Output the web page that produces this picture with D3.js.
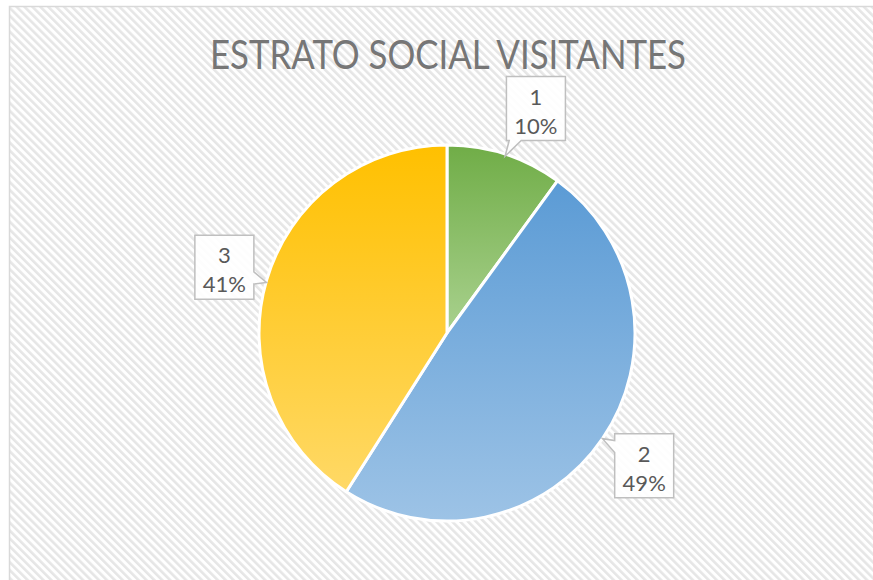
<!DOCTYPE html>
<html>
<head>
<meta charset="utf-8">
<script src="https://cdn.jsdelivr.net/npm/d3@7"></script>
<style>
  body { margin: 0; background: #fff; }
  svg { display: block; }
</style>
</head>
<body>
<svg id="chart" width="873" height="580"></svg>
<script>
// data
var categories = ["1", "2", "3"];
var values = [10, 49, 41];
var percentLabels = ["10%", "49%", "41%"];
var title = "ESTRATO SOCIAL VISITANTES";

// gradient colours per slice (top -> bottom)
var topColors = ["#70ad47", "#5b9bd5", "#ffc000"];
var bottomColors = ["#a9d18e", "#9dc3e6", "#ffd966"];

var svg = d3.select("#chart"),
    width = +svg.attr("width"),
    height = +svg.attr("height");

var defs = svg.append("defs");

// hatched background
var pat = defs.append("pattern")
    .attr("id", "hatch")
    .attr("patternUnits", "userSpaceOnUse")
    .attr("width", 5.6)
    .attr("height", 5.6)
    .attr("patternTransform", "rotate(-45)");
pat.append("rect").attr("width", 5.6).attr("height", 5.6).attr("fill", "#fff");
pat.append("rect").attr("width", 2.6).attr("height", 5.6).attr("fill", "#e6e6e6");

svg.append("rect")
    .attr("x", 9.5).attr("y", 6.5)
    .attr("width", width + 10).attr("height", height + 10)
    .attr("fill", "url(#hatch)")
    .attr("stroke", "#d9d9d9")
    .attr("stroke-width", 1.5);

// title
svg.append("text")
    .attr("x", 448)
    .attr("y", 69)
    .attr("text-anchor", "middle")
    .attr("textLength", 476)
    .attr("lengthAdjust", "spacingAndGlyphs")
    .attr("font-family", "Lato, 'Open Sans', sans-serif")
    .attr("font-size", 40)
    .attr("fill", "#767676")
    .text(title);

categories.forEach(function(c, i) {
  var g = defs.append("linearGradient")
      .attr("id", "grad" + i)
      .attr("x1", 0).attr("y1", 0).attr("x2", 0).attr("y2", 1);
  g.append("stop").attr("offset", "0%").attr("stop-color", topColors[i]);
  g.append("stop").attr("offset", "100%").attr("stop-color", bottomColors[i]);
});

var cx = 447, cy = 333, radius = 188, labelRadius = 236;
// small sideways shift of the label boxes, as the reference places them
var labelShift = [16, 2, 4];

var data = categories.map(function(c, i) {
  return {cat: c, value: values[i], pct: percentLabels[i], idx: i};
});

var pie = d3.pie().sort(null).value(function(d) { return d.value; });
var arc = d3.arc().innerRadius(0).outerRadius(radius);
var labelArc = d3.arc().innerRadius(labelRadius).outerRadius(labelRadius);
var tipArc = d3.arc().innerRadius(radius).outerRadius(radius);

var g = svg.append("g")
    .attr("transform", "translate(" + cx + "," + cy + ")");

var arcs = pie(data);

g.selectAll(".slice")
    .data(arcs)
  .enter().append("path")
    .attr("class", "slice")
    .attr("d", arc)
    .attr("fill", function(d) { return "url(#grad" + d.data.idx + ")"; })
    .attr("stroke", "#fff")
    .attr("stroke-width", 3)
    .attr("stroke-linejoin", "round");

function labelPos(d) {
  var p = labelArc.centroid(d);
  return [p[0] + labelShift[d.data.idx], p[1]];
}

// callout path: box with a pointer toward the tip
function calloutPath(lx, ly, w, h, tx, ty) {
  var x0 = lx - w / 2, x1 = lx + w / 2, y0 = ly - h / 2, y1 = ly + h / 2;
  var dx = tx - lx, dy = ty - ly;
  var tX = dx !== 0 ? (w / 2) / Math.abs(dx) : Infinity;
  var tY = dy !== 0 ? (h / 2) / Math.abs(dy) : Infinity;
  var half = 6;
  var pts;
  function clamp(v, a, b) { return Math.max(a, Math.min(b, v)); }
  if (tY < tX) {
    var ex = clamp(lx + dx * tY, x0 + half + 2, x1 - half - 2);
    if (dy < 0) {
      pts = [[x0, y0], [ex - half, y0], [tx, ty], [ex + half, y0], [x1, y0], [x1, y1], [x0, y1]];
    } else {
      pts = [[x0, y0], [x1, y0], [x1, y1], [ex + half, y1], [tx, ty], [ex - half, y1], [x0, y1]];
    }
  } else {
    var ey = clamp(ly + dy * tX, y0 + half + 2, y1 - half - 2);
    if (dx > 0) {
      pts = [[x0, y0], [x1, y0], [x1, ey - half], [tx, ty], [x1, ey + half], [x1, y1], [x0, y1]];
    } else {
      pts = [[x0, y0], [x1, y0], [x1, y1], [x0, y1], [x0, ey + half], [tx, ty], [x0, ey - half]];
    }
  }
  return "M" + pts.map(function(p) { return p[0] + "," + p[1]; }).join("L") + "Z";
}

var boxW = 59, boxH = 64;

var labels = g.selectAll(".label")
    .data(arcs)
  .enter().append("g")
    .attr("class", "label");

labels.append("path")
    .attr("d", function(d) {
      var l = labelPos(d), t = tipArc.centroid(d);
      return calloutPath(l[0], l[1], boxW, boxH, t[0], t[1] + (t[1] < 0 ? 2 : 0));
    })
    .attr("fill", "#fff")
    .attr("fill-opacity", 0.9)
    .attr("stroke", "#bfbfbf")
    .attr("stroke-width", 1.5);

labels.append("text")
    .attr("x", function(d) { return labelPos(d)[0]; })
    .attr("y", function(d) { return labelPos(d)[1] - 4; })
    .attr("text-anchor", "middle")
    .attr("font-family", "Lato, 'Open Sans', sans-serif")
    .attr("font-size", 22)
    .attr("fill", "#595959")
    .text(function(d) { return d.data.cat; });

labels.append("text")
    .attr("x", function(d) { return labelPos(d)[0]; })
    .attr("y", function(d) { return labelPos(d)[1] + 25; })
    .attr("text-anchor", "middle")
    .attr("font-family", "Lato, 'Open Sans', sans-serif")
    .attr("font-size", 22)
    .attr("fill", "#595959")
    .text(function(d) { return d.data.pct; });
</script>
</body>
</html>
